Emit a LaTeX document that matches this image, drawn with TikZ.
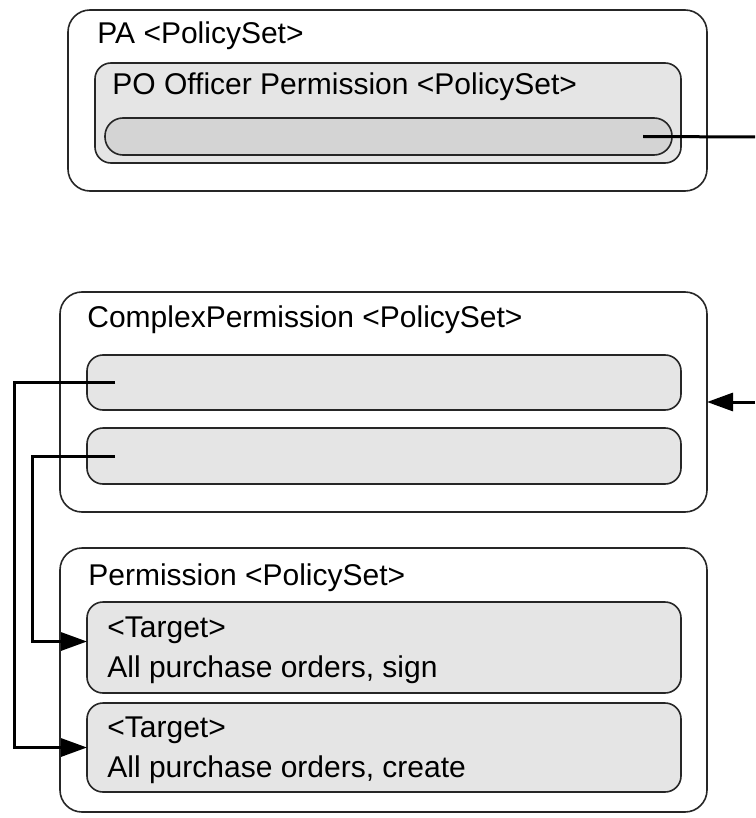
\documentclass[tikz,border=0pt]{standalone}
\usepackage{fontspec}
\setmainfont{Liberation Sans}
\usetikzlibrary{arrows.meta}
\tikzset{
  frame/.style={draw=black!85, line width=0.8pt, fill=white, rounded corners=11pt,
    inner sep=0pt, outer sep=0pt, anchor=north west},
  slot/.style={draw=black!85, line width=0.8pt, fill=black!10, rounded corners=8pt,
    inner sep=0pt, outer sep=0pt, anchor=north west},
  handle/.style={slot, fill=black!17, rounded corners=9pt},
  lbl/.style={anchor=base west, inner sep=0pt, font=\fontsize{15}{20}\selectfont},
  link/.style={line width=1.5pt, black},
  tip/.style={-{Triangle[length=13pt,width=9pt]}}
}
\begin{document}
\begin{tikzpicture}[x=0.5pt, y=-0.5pt]
      \useasboundingbox (0,0) rectangle (755,818);
      % boxes
      \node[frame, minimum width=319.5pt, minimum height=90.5pt] (pa) at (68,10) {};
      \node[slot, minimum width=293pt, minimum height=50pt] (po) at (95,63) {};
      \node[handle, minimum width=283.5pt, minimum height=18.5pt] (pobar) at (105,118) {};
      \node[frame, minimum width=323.5pt, minimum height=110pt] (cplx) at (60,292) {};
      \node[slot, minimum width=297pt, minimum height=27.5pt] (barone) at (87,355) {};
      \node[slot, minimum width=297pt, minimum height=28pt] (bartwo) at (87,428) {};
      \node[frame, minimum width=323.5pt, minimum height=132pt] (perm) at (60,548) {};
      \node[slot, minimum width=297pt, minimum height=45.5pt] (tgtone) at (87,602) {};
      \node[slot, minimum width=297pt, minimum height=44.5pt] (tgttwo) at (87,703) {};
      % labels
      \node[lbl] (palbl) at (97,44) {PA <PolicySet>};
      \node[lbl] (polbl) at (112,95) {PO Officer Permission <PolicySet>};
      \node[lbl] (cplxlbl) at (87,327) {ComplexPermission <PolicySet>};
      \node[lbl] (permlbl) at (88,585) {Permission <PolicySet>};
      \node[lbl] (tgtonea) at (107,637) {<Target>};
      \node[lbl] (tgtoneb) at (107,677) {All purchase orders, sign};
      \node[lbl] (tgttwoa) at (107,737) {<Target>};
      \node[lbl] (tgttwob) at (107,777) {All purchase orders, create};
      % off-page ends
      \coordinate (offa) at (755,137);
      \coordinate (offb) at (755,402);
      \begin{scope}[link]
        \draw ([xshift=-14.5pt]pobar.east) -- (offa);
        \draw[tip] (offb) -- (cplx.east);
        \draw[tip] ([xshift=14pt]barone.west) -- ++(-101,0) |- (tgttwo.west);
        \draw[tip] ([xshift=14pt]bartwo.west) -- ++(-83,0) |- ([yshift=3pt]tgtone.west);
      \end{scope}
    \end{tikzpicture}
\end{document}
